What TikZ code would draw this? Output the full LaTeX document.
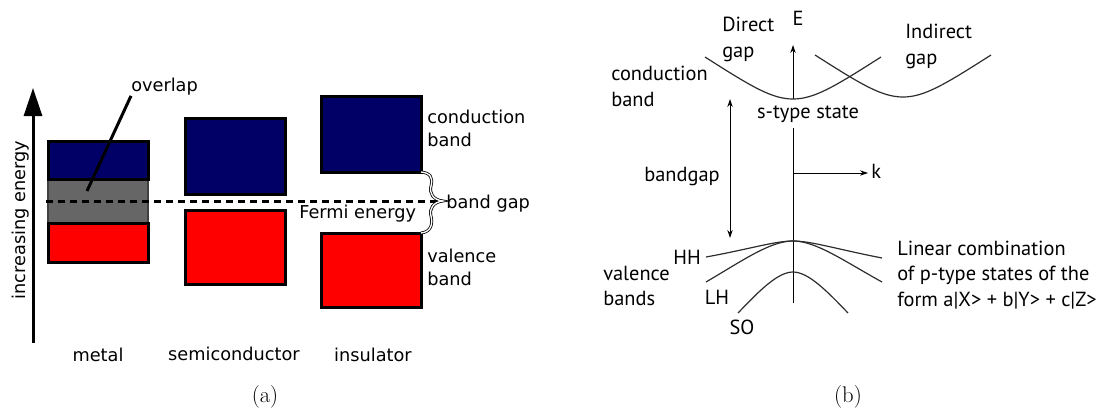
\documentclass[tikz,border=0pt]{standalone}
\usepackage{fontspec}
\newfontfamily\dvfont{DejaVu Sans}
\newfontfamily\ptfont{PT Sans}
\usetikzlibrary{arrows.meta}
\definecolor{cband}{RGB}{0,0,102}
\definecolor{vband}{RGB}{255,0,0}
\definecolor{oband}{RGB}{102,102,102}
\definecolor{curvecol}{RGB}{45,45,45}
\begin{document}
\begin{tikzpicture}[x=0.75pt,y=-0.75pt,
  bandbox/.style={line width=2.25pt, draw=black},
  alabel/.style={font=\dvfont\fontsize{13.3}{17.25}\selectfont, inner sep=0pt, align=left},
  blabel/.style={font=\ptfont\fontsize{15.3}{19.1}\selectfont, inner sep=0pt, align=left, text=black},
  caplabel/.style={font=\fontsize{17}{20}\selectfont, inner sep=0pt},
  thinarrow/.style={line width=0.75pt, -{Stealth[length=6pt,width=4pt]}},
  bandcurve/.style={line width=0.9pt, draw=curvecol},
  thickline/.style={line width=2.25pt},
]
\useasboundingbox (0,0) rectangle (1112,410);

% ---------------- panel (a) ----------------
% energy axis
\coordinate (axb) at (33,343);
\coordinate (axt) at (33,88);
\draw[thickline, -{Triangle[length=21pt,width=13.5pt]}] (axb) -- (axt);
\node[alabel, rotate=90] (incE) at (21,220) {increasing energy};

% metal
\draw[fill=oband, draw=black!75, line width=1.5pt] (48,179) rectangle (148,223);
\draw[bandbox, fill=cband] (48,141) rectangle (148,179);
\draw[bandbox, fill=vband] (48,223) rectangle (148,262);
% semiconductor
\draw[bandbox, fill=cband] (185,118) rectangle (285,194);
\draw[bandbox, fill=vband] (185,210) rectangle (285,284);
% insulator
\draw[bandbox, fill=cband] (321,96) rectangle (421,172);
\draw[bandbox, fill=vband] (321,233) rectangle (421,307);

% Fermi level
\coordinate (fl) at (46,201);
\coordinate (fr) at (437,201);
\draw[thickline, dash pattern=on 5.5pt off 3.5pt] (fl) -- (fr);

% overlap label and pointer
\node[alabel, anchor=west] (ovl) at (131,87) {overlap};
\coordinate (ovlpt) at (87,191);
\draw[thickline] (ovl.south west) -- (ovlpt);

% band gap brace
\coordinate (brt) at (421,172);
\coordinate (brb) at (421,233);
\coordinate (brtip) at (443,201);
\draw[line width=0.6pt, double, double distance=1pt]
  (brt) .. controls (431,173) and (433,178) .. (431,186)
        .. controls (429,193) and (433,200) .. (brtip)
        .. controls (433,202) and (429,209) .. (431,216)
        .. controls (433,224) and (431,232) .. (brb);

\node[alabel, anchor=west] (bgap) at (446,204) {band gap};
\node[alabel, anchor=west] (ferm) at (299,214) {Fermi energy};
\node[alabel, anchor=west] (cbl) at (427,128.5) {conduction\\band};
\node[alabel, anchor=west] (vbl) at (427,267) {valence\\band};

\node[alabel, anchor=base] (met) at (98,361) {metal};
\node[alabel, anchor=base] (semi) at (234,360) {semiconductor};
\node[alabel, anchor=base] (ins) at (373,361) {insulator};

\node[caplabel] (capa) at (265,397) {(a)};

% ---------------- panel (b) ----------------
% E axis
\coordinate (eb) at (793,303);
\coordinate (em) at (793,128);
\coordinate (ec) at (793,99);
\coordinate (et) at (793,45);
\draw[line width=0.75pt] (eb) -- (em);
\draw[thinarrow] (ec) -- (et);
\node[blabel] (Elab) at (798,18) {E};

% k axis
\coordinate (k0) at (793,173);
\coordinate (k1) at (868,173);
\draw[thinarrow] (k0) -- (k1);
\node[blabel, anchor=west] (klab) at (871,171) {k};

% conduction bands
\draw[bandcurve] (705,57) .. controls (752,87) and (772,99) .. (793,99)
                 .. controls (814,99) and (834,87) .. (881,57);
\draw[bandcurve] (815,55) .. controls (862,85) and (882,97) .. (903,97)
                 .. controls (924,97) and (944,85) .. (991,55);

% valence bands
\draw[bandcurve] (706,257) .. controls (750,249) and (775,241) .. (793,241)
                 .. controls (811,241) and (836,249) .. (882,258);
\draw[bandcurve] (706,282) .. controls (742,261) and (770,241) .. (793,241)
                 .. controls (816,241) and (844,261) .. (882,282);
\draw[bandcurve] (738,313) .. controls (760,290) and (778,272) .. (793,272)
                 .. controls (808,272) and (826,290) .. (848,313);

% bandgap arrow
\coordinate (bgt) at (730,99);
\coordinate (bgb) at (730,238);
\draw[line width=0.75pt, {Stealth[length=6pt,width=4pt]}-{Stealth[length=6pt,width=4pt]}] (bgt) -- (bgb);
\node[blabel] (bglab) at (682,177) {bandgap};

\node[blabel, anchor=west] (dgap) at (722,39.5) {Direct\\gap};
\node[blabel, anchor=west] (igap) at (905,46.5) {Indirect\\gap};
\node[blabel, anchor=west] (cbb) at (611,86.5) {conduction\\band};
\node[blabel] (stype) at (808,114) {s-type state};
\node[blabel] (hh) at (687,257) {HH};
\node[blabel] (lh) at (717,297) {LH};
\node[blabel] (so) at (742,327) {SO};
\node[blabel, anchor=west] (vbb) at (603,286) {valence\\bands};
\node[blabel, anchor=west] (lin) at (897,275) {Linear combination\\of p-type states of the\\form a|X> + b|Y> + c|Z>};

\node[caplabel] (capb) at (848,397) {(b)};
\end{tikzpicture}
\end{document}
